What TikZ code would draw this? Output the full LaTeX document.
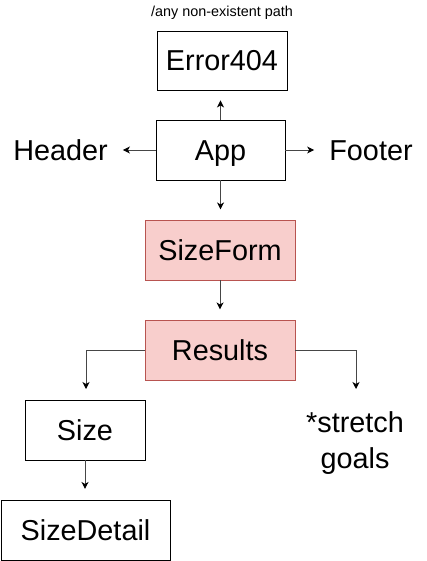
\documentclass[tikz,border=0pt]{standalone}
\usepackage{fontspec}
\setmainfont{Liberation Sans}
\usetikzlibrary{arrows.meta}
\begin{document}
\begin{tikzpicture}[x=1pt,y=-1pt,
  box/.style={draw=black,line width=0.9pt,fill=white,inner sep=0pt,text height=20.6pt,text depth=0pt,font=\fontsize{28.8}{33}\selectfont},
  pinkbox/.style={box,draw={rgb,255:red,184;green,84;blue,80},fill={rgb,255:red,248;green,206;blue,204}},
  lbl/.style={inner sep=0pt,font=\fontsize{28.8}{36}\selectfont,align=center},
  conn/.style={draw={rgb,255:red,70;green,70;blue,70},line width=0.9pt,-{Stealth[length=7pt,width=7pt,inset=2pt,color=black]}}
]
\useasboundingbox (0,0) rectangle (426,561);
\node[inner sep=0pt,font=\fontsize{14.4}{16}\selectfont] (path) at (222,13) {/any non-existent path};
\node[box,minimum width=130pt,minimum height=59pt] (err) at (222,60.5) {Error404};
\node[box,minimum width=129pt,minimum height=60pt] (app) at (220.5,150) {App};
\node[lbl,text height=20.6pt,text depth=0pt] (header) at (60.5,150) {Header};
\node[lbl,text height=20.6pt,text depth=0pt] (footer) at (371,150) {Footer};
\node[pinkbox,minimum width=150pt,minimum height=60pt] (sf) at (220,250) {SizeForm};
\node[pinkbox,minimum width=150pt,minimum height=60pt] (res) at (220,350) {Results};
\node[box,minimum width=120pt,minimum height=60pt] (size) at (85,430) {Size};
\node[box,minimum width=169pt,minimum height=60pt] (det) at (85.5,530) {SizeDetail};
\node[lbl] (sg) at (355,443) {*stretch\\goals};
\coordinate (sgtop) at (356,389);
\coordinate (sztop) at (86,389);
\draw[conn,shorten >=10pt] (app.north) -- (app.north |- err.south);
\draw[conn,shorten >=15pt] (app.west) -- (header.east);
\draw[conn,shorten >=15pt] (app.east) -- (footer.west);
\draw[conn] (app.south) -- ++(0,29);
\draw[conn] (sf.south) -- ++(0,29);
\draw[conn] (res.west) -| (sztop);
\draw[conn] (res.east) -| (sgtop);
\draw[conn] (size.south) -- ++(0,28.5);
\end{tikzpicture}
\end{document}
